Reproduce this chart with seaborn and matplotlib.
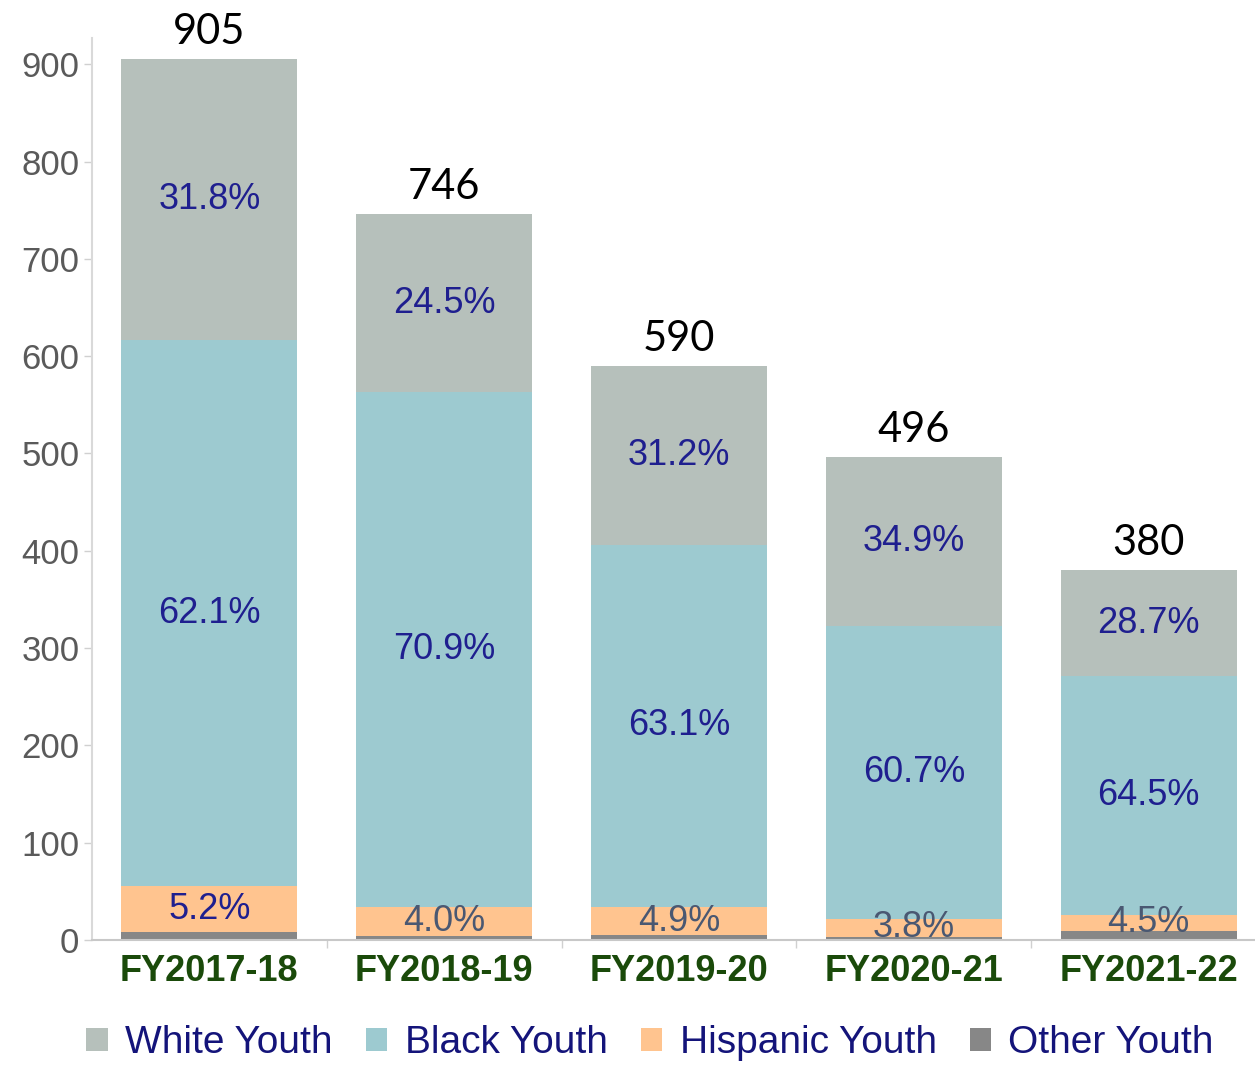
import matplotlib
matplotlib.use("Agg")
import matplotlib.pyplot as plt
import seaborn as sns
import pandas as pd
import numpy as np
from matplotlib.patches import Patch
from matplotlib.ticker import FixedLocator

# ---- data ----
years = ["FY2017-18", "FY2018-19", "FY2019-20", "FY2020-21", "FY2021-22"]
totals = [905, 746, 590, 496, 380]
white = [288, 183, 184, 173, 109]
black = [562, 529, 372, 301, 245]
hispanic = [47, 30, 29, 19, 17]
other = [8, 4, 5, 3, 9]
white_pct = ["31.8%", "24.5%", "31.2%", "34.9%", "28.7%"]
black_pct = ["62.1%", "70.9%", "63.1%", "60.7%", "64.5%"]
hisp_pct = ["5.2%", "4.0%", "4.9%", "3.8%", "4.5%"]
series_names = ["White Youth", "Black Youth", "Hispanic Youth", "Other Youth"]

colors = {"White Youth": "#b6c0bb", "Black Youth": "#9dcad0",
          "Hispanic Youth": "#ffc48f", "Other Youth": "#878787"}

df = pd.DataFrame({"year": years, "White Youth": white, "Black Youth": black,
                   "Hispanic Youth": hispanic, "Other Youth": other})
# cumulative tops (stack from bottom: Other, Hispanic, Black, White)
df["top_other"] = df["Other Youth"]
df["top_hisp"] = df["top_other"] + df["Hispanic Youth"]
df["top_black"] = df["top_hisp"] + df["Black Youth"]
df["top_white"] = df["top_black"] + df["White Youth"]

sns.set_theme(style="white")
plt.rcParams["font.family"] = ["Liberation Sans", "DejaVu Sans"]

fig = plt.figure(figsize=(12.55, 10.71), dpi=100)
ax = fig.add_axes([92 / 1255, 1 - 940 / 1071, (1266 - 92) / 1255, (940 - 38) / 1071])

for col, name in [("top_white", "White Youth"), ("top_black", "Black Youth"),
                  ("top_hisp", "Hispanic Youth"), ("top_other", "Other Youth")]:
    sns.barplot(data=df, x="year", y=col, color=colors[name], saturation=1,
                width=0.75, linewidth=0, ax=ax, errorbar=None)

ax.set_xlim(-0.5, 4.5)
ax.set_ylim(0, 927)
ax.set_xlabel("")
ax.set_ylabel("")

# labels
navy = "#1f1f8f"
slate = "#4a5872"
for i in range(len(years)):
    ax.text(i, (df["top_black"][i] + df["top_white"][i]) / 2, white_pct[i],
            ha="center", va="center", fontsize=26, color=navy)
    ax.text(i, (df["top_hisp"][i] + df["top_black"][i]) / 2, black_pct[i],
            ha="center", va="center", fontsize=26, color=navy)
    ax.text(i, (df["top_other"][i] + df["top_hisp"][i]) / 2, hisp_pct[i],
            ha="center", va="center", fontsize=26,
            color=navy if i == 0 else slate)
    ax.annotate(str(totals[i]), (i, df["top_white"][i]), xytext=(0, 6),
                textcoords="offset points", ha="center", va="bottom",
                fontsize=30, color="black", family=["Lato", "DejaVu Sans"])

# axes styling
ax.yaxis.set_major_locator(FixedLocator(range(0, 901, 100)))
ax.tick_params(axis="y", left=True, length=6, width=1, color="#d0d0d0",
               labelsize=25, labelcolor="#5a5a5a", pad=3)
ax.tick_params(axis="x", bottom=False, labelsize=26, labelcolor="#1a4a0a", pad=4)
for lab in ax.get_xticklabels():
    lab.set_fontweight("bold")
ax.xaxis.set_minor_locator(FixedLocator([0.5, 1.5, 2.5, 3.5]))
ax.tick_params(axis="x", which="minor", bottom=True, length=6, width=1, color="#d0d0d0")
for s in ["top", "right"]:
    ax.spines[s].set_visible(False)
ax.spines["left"].set_color("#d9d9d9")
ax.spines["left"].set_linewidth(1.5)
ax.spines["bottom"].set_color("#c8c8c8")
ax.spines["bottom"].set_linewidth(1.5)
ax.grid(False)

handles = [Patch(facecolor=colors[n], edgecolor="none", label=n) for n in series_names]
leg = fig.legend(handles=handles, loc="center", bbox_to_anchor=(0.518, 1 - 1043 / 1071),
                 ncol=4, frameon=False, fontsize=28, handlelength=0.55,
                 handleheight=0.55, handletextpad=0.45, columnspacing=0.85)
for t in leg.get_texts():
    t.set_color("#14147a")

fig.savefig("out.png", dpi=100)
